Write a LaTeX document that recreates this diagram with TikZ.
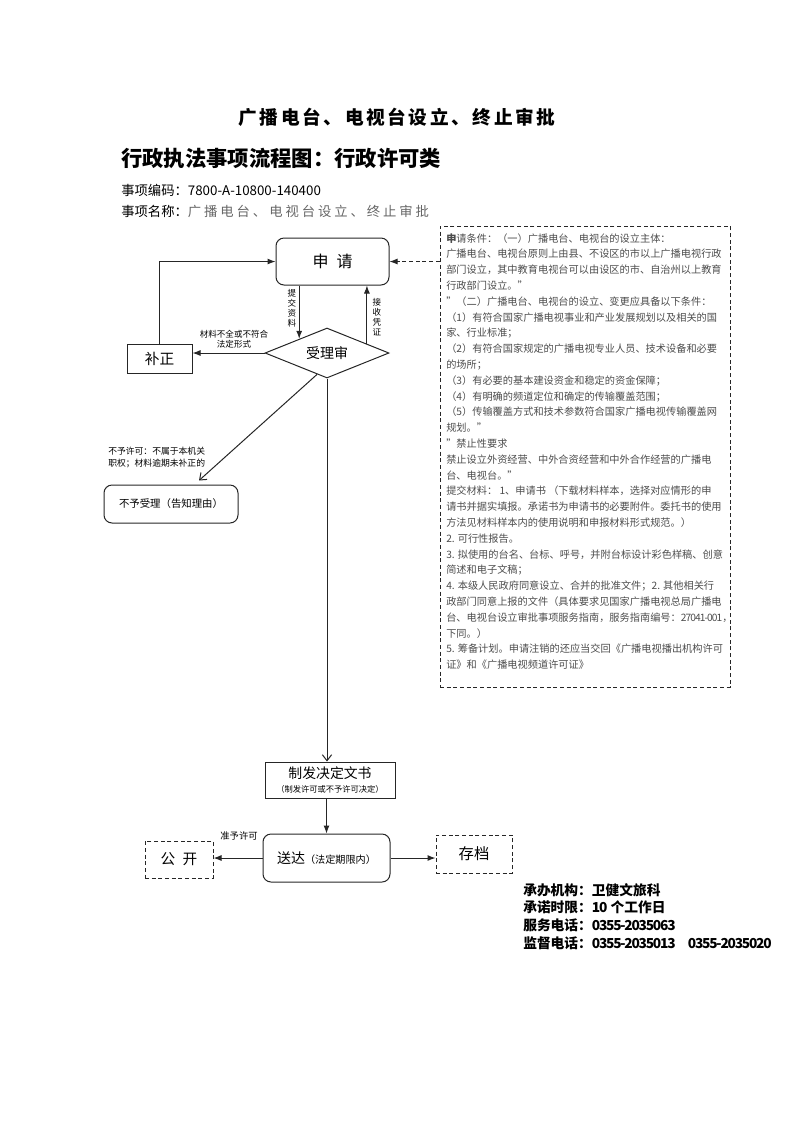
\documentclass[tikz,border=0pt]{standalone}
\usepackage{fontspec}
\setmainfont{Noto Sans CJK SC}
\usetikzlibrary{shapes.geometric,arrows.meta,calc}
\newcommand\dgt[1]{{\addfontfeature{LetterSpace=-9}#1}}
\begin{document}
\begin{tikzpicture}[x=0.75pt,y=-0.75pt,
  ln/.style={line width=0.75pt, draw=black!85},
  arr/.style={ln,-{Latex[length=6pt,width=4.5pt]}},
  oarr/.style={ln,-{Straight Barb[length=4.5pt,width=7pt]}},
  dsh/.style={dash pattern=on 3pt off 2pt},
  sbox/.style={ln, rectangle, inner sep=0pt},
  rbox/.style={sbox, rounded corners=6pt},
  dbox/.style={sbox, dsh},
  lbl/.style={inner sep=0pt, font=\fontsize{6.4}{7.2}\selectfont, align=center},
  info/.style={anchor=west, inner sep=0pt, font=\fontsize{10.3}{12}\selectfont\bfseries}]
\useasboundingbox (0,0) rectangle (793,1122);

% titles
\node[inner sep=0pt, font=\fontsize{14}{16}\selectfont\bfseries\addfontfeature{LetterSpace=14}] (t1) at (397,117) {广播电台、电视台设立、终止审批};
\node[inner sep=0pt, anchor=west, font=\fontsize{16}{18}\selectfont\bfseries] (t2) at (121,158) {行政执法事项流程图：行政许可类};
\node[inner sep=0pt, anchor=west, font=\fontsize{10}{12}\selectfont] (t3) at (121,190) {事项编码：7800-A-10800-140400};
\node[inner sep=0pt, anchor=west, font=\fontsize{10}{12}\selectfont] (t4) at (121,211) {事项名称：{\color{black!60}\addfontfeature{LetterSpace=22}广播电台、电视台设立、终止审批}};

% main nodes
\node[rbox, minimum width=84.75pt, minimum height=35.25pt, font=\fontsize{12}{14}\selectfont] (sq) at (332.5,261.5) {申\hspace{0.5em}请};
\node[ln, diamond, aspect=2.5, inner sep=0pt, minimum width=93pt, minimum height=37.5pt, font=\fontsize{10.5}{12}\selectfont] (dia) at (327,353) {受理审};
\node[sbox, minimum width=48.75pt, minimum height=21.75pt, font=\fontsize{11}{13}\selectfont] (bz) at (159.5,358.5) {补正};
\node[rbox, minimum width=100.5pt, minimum height=28.5pt, font=\fontsize{7.8}{9}\selectfont] (byl) at (171,504) {不予受理（告知理由）};
\node[sbox, minimum width=97.5pt, minimum height=27pt, align=center] (zf) at (330,780) {{\fontsize{10.4}{12}\selectfont 制发决定文书}\\[-1pt]{\fontsize{6.2}{7}\selectfont （制发许可或不予许可决定）}};
\node[rbox, minimum width=95.25pt, minimum height=36pt] (sd) at (326.5,858) {{\fontsize{10.5}{12}\selectfont 送达}{\fontsize{7.6}{9}\selectfont （法定期限内）}};
\node[dbox, minimum width=51pt, minimum height=27.75pt, font=\fontsize{11}{13}\selectfont] (gk) at (179,859.5) {公\hspace{0.5em}开};
\node[dbox, minimum width=57pt, minimum height=28.5pt, font=\fontsize{11.5}{13}\selectfont] (cd) at (474,854) {存档};

% conditions box
\node[dbox, minimum width=217.5pt, minimum height=345.75pt] (db) at (585,456.5) {};
\node[anchor=north west, inner sep=0pt, align=left, text=black!70, font=\fontsize{7.65}{11.85}\selectfont] (dbt) at (446,233) {%
{\bfseries 申}请条件：（一）广播电台、电视台的设立主体：\\
广播电台、电视台原则上由县、不设区的市以上广播电视行政\\
部门设立，其中教育电视台可以由设区的市、自治州以上教育\\
行政部门设立。"\\
"（二）广播电台、电视台的设立、变更应具备以下条件：\\
（1）有符合国家广播电视事业和产业发展规划以及相关的国\\
家、行业标准；\\
（2）有符合国家规定的广播电视专业人员、技术设备和必要\\
的场所；\\
（3）有必要的基本建设资金和稳定的资金保障；\\
（4）有明确的频道定位和确定的传输覆盖范围；\\
（5）传输覆盖方式和技术参数符合国家广播电视传输覆盖网\\
规划。"\\
"禁止性要求\\
禁止设立外资经营、中外合资经营和中外合作经营的广播电\\
台、电视台。"\\
提交材料：\ 1、申请书 （下载材料样本，选择对应情形的申\\
请书并据实填报。承诺书为申请书的必要附件。委托书的使用\\
方法见材料样本内的使用说明和申报材料形式规范。）\\
2. 可行性报告。\\
3. 拟使用的台名、台标、呼号，并附台标设计彩色样稿、创意\\
简述和电子文稿；\\
4. 本级人民政府同意设立、合并的批准文件；2. 其他相关行\\
政部门同意上报的文件（具体要求见国家广播电视总局广播电\\
台、电视台设立审批事项服务指南，服务指南编号：\dgt{27041-001}，\\
下同。）\\
5. 筹备计划。申请注销的还应当交回《广播电视播出机构许可\\
证》和《广播电视频道许可证》};

% connectors
\draw[arr, dsh] (sq.east -| db.west) -- (sq.east);
\draw[arr] (sq.south -| dia.153) -- (dia.153);
\draw[arr] (dia.13) -- (dia.13 |- sq.south);
\draw[arr] (dia.west) -- (dia.west -| bz.east);
\draw[arr] (bz.north) |- (sq.west);
\draw[oarr] (dia.245) -- ([xshift=21pt,yshift=3pt]byl.north);
\draw[oarr] (dia.south) -- (dia.south |- zf.north);
\draw[arr] (zf.south -| sd.north) -- (sd.north);
\draw[arr] (sd.west) -- (sd.west -| gk.east);
\draw[arr] (sd.east) -- (sd.east -| cd.west);

% connector labels
\node[lbl, font=\fontsize{6.4}{7.5}\selectfont] (l1) at (292,308) {提\\交\\资\\料};
\node[lbl, font=\fontsize{6.4}{7.5}\selectfont] (l2) at (377,317) {接\\收\\凭\\证};
\node[lbl] (l3) at (234,339) {材料不全或不符合\\法定形式};
\node[lbl, anchor=west, align=left, font=\fontsize{6.6}{9}\selectfont] (l4) at (108,458) {不予许可：不属于本机关\\职权；材料逾期未补正的};
\node[lbl, font=\fontsize{7}{8}\selectfont] (l5) at (239,836) {准予许可};

% info
\node[info] (i1) at (523,890) {承办机构：卫健文旅科};
\node[info] (i2) at (523,907.5) {承诺时限：\dgt{10} 个工作日};
\node[info] (i3) at (523,925) {服务电话：\dgt{0355-2035063}};
\node[info] (i4) at (523,943) {监督电话：\dgt{0355-2035013}\hspace{0.9em}\dgt{0355-2035020}};
\end{tikzpicture}
\end{document}
